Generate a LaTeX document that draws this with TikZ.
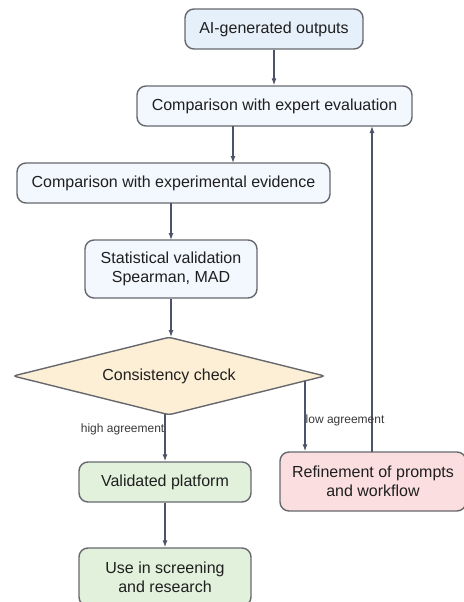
\documentclass[tikz,border=0pt]{standalone}
\usepackage{fontspec}
\setmainfont{Liberation Sans}
\usetikzlibrary{shapes.geometric,arrows.meta}
\definecolor{edgegray}{HTML}{66686E}
\definecolor{arrowcol}{HTML}{4D5469}
\definecolor{topblue}{HTML}{E6F0FB}
\definecolor{paleblue}{HTML}{F3F8FE}
\definecolor{decide}{HTML}{FDEFD6}
\definecolor{okgreen}{HTML}{E2F1DC}
\definecolor{fixpink}{HTML}{FBDEDF}
\tikzset{
  box/.style={draw=edgegray, line width=1.4pt, rounded corners=9pt, align=center,
    inner sep=0pt, font=\fontsize{16}{19}\selectfont, text=black!88},
  flow/.style={draw=arrowcol, line width=1.2pt, -{Latex[length=7pt,width=5pt]}},
  tag/.style={font=\fontsize{12}{14}\selectfont, text=black!78, inner sep=0pt}
}
\begin{document}
\begin{tikzpicture}[x=1pt,y=-1pt]
\useasboundingbox (0,0) rectangle (463,602);
\node[box, fill=topblue, minimum width=178pt, minimum height=40pt] (ai) at (274,29) {AI-generated outputs};
\node[box, fill=paleblue, minimum width=275pt, minimum height=40pt] (expert) at (274.5,106) {Comparison with expert evaluation};
\node[box, fill=paleblue, minimum width=313pt, minimum height=40pt] (exper) at (173.5,183) {Comparison with experimental evidence};
\node[box, fill=paleblue, minimum width=172pt, minimum height=58pt] (stat) at (171,269) {Statistical validation\\Spearman, MAD};
\node[draw=edgegray, line width=1.4pt, fill=decide, diamond, aspect=4, inner sep=0pt,
  minimum width=312pt, minimum height=78pt, rounded corners=3pt,
  font=\fontsize{16}{19}\selectfont, text=black!88] (check) at (169,376) {Consistency check};
\node[box, fill=okgreen, minimum width=172pt, minimum height=40pt] (valid) at (165,482) {Validated platform};
\node[box, fill=okgreen, minimum width=172pt, minimum height=58pt] (use) at (165,577) {Use in screening\\and research};
\node[box, fill=fixpink, minimum width=186pt, minimum height=59pt] (refine) at (373,481.5) {Refinement of prompts\\and workflow};

\coordinate (lowstart) at (305,381);
\coordinate (highstart) at (165,414);

\draw[flow] (ai.south) -- (ai.south |- expert.north);
\draw[flow] (233,126) -- (233,163);
\draw[flow] (171,203) -- (171,240);
\draw[flow] (stat.south) -- (171,337);
\draw[flow] (highstart) -- (valid.north);
\draw[flow] (valid.south) -- (use.north);
\draw[flow] (lowstart) -- (lowstart |- refine.north);
\draw[flow] (372,452) -- (372,126);

\node[tag, anchor=base east] at (164.5,432) {high agreement};
\node[tag, anchor=base west] at (305.5,423) {low agreement};
\end{tikzpicture}
\end{document}
